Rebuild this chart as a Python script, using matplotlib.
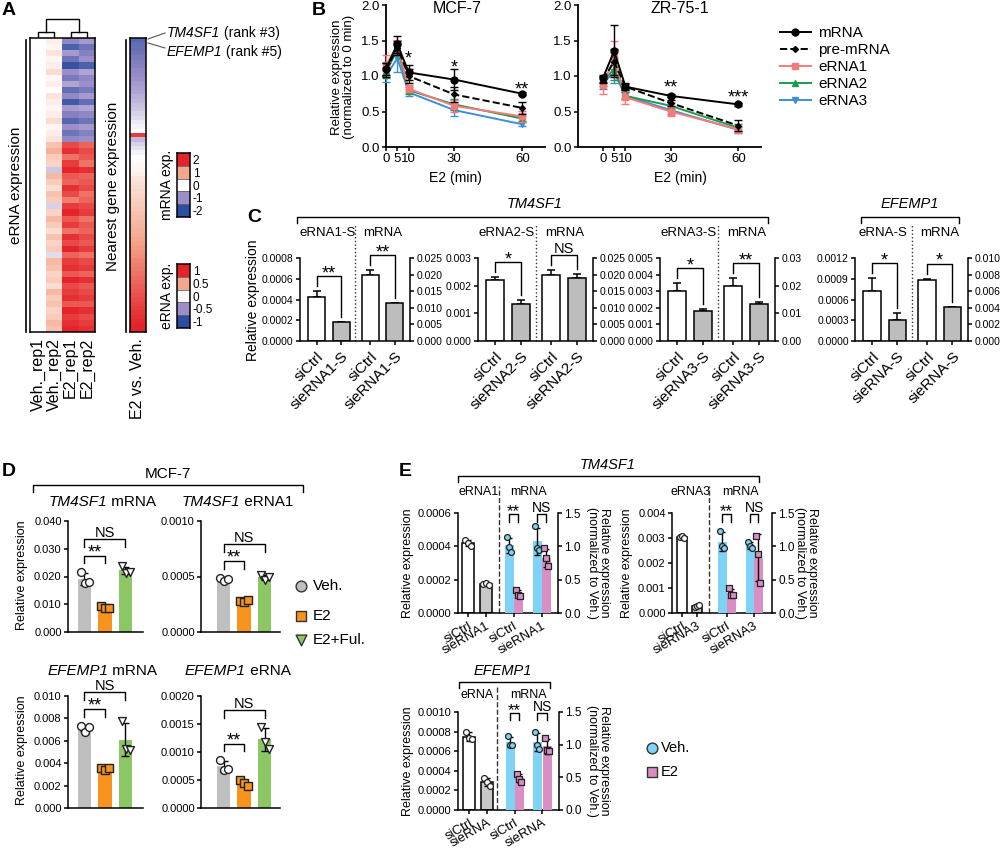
import numpy as np
import matplotlib.pyplot as plt
from matplotlib.colors import LinearSegmentedColormap
from matplotlib.lines import Line2D

plt.rcParams['font.family'] = ['Liberation Sans', 'DejaVu Sans']
plt.rcParams['axes.facecolor'] = 'none'
plt.rcParams['axes.linewidth'] = 1.1

# ---------------- A: heatmap data ----------------
heat_cols = ['Veh._rep1', 'Veh._rep2', 'E2_rep1', 'E2_rep2']
erna_veh1 = [0.0, 0.0, 0.0, 0.0, 0.0, 0.0, 0.0, 0.0, 0.0, 0.0, 0.0, 0.0, 0.0, 0.0, 0.0, 0.0,
             0.0, 0.0, 0.0, 0.0, 0.0, 0.0, 0.0, 0.0, 0.0, 0.0, 0.0, 0.0, 0.0, 0.0, 0.0, 0.0,
             0.0, 0.0, 0.0, 0.0, 0.0, 0.0, 0.0, 0.0, 0.0, 0.0, 0.0, 0.0, 0.0, 0.0, 0.0, 0.0]
erna_veh2 = [0.10, 0.05, 0.15, 0.05, 0.10, 0.20, 0.05, 0.10, 0.00, 0.15, 0.10, 0.05, 0.10, 0.20, 0.05, 0.10,
             0.15, 0.35, 0.45, 0.30, 0.25, -0.25, 0.40, 0.30, 0.20, 0.35, 0.30, -0.20, 0.25, 0.40, 0.30, 0.20,
             0.35, 0.25, 0.30, -0.15, 0.40, 0.35, 0.25, 0.30, 0.20, 0.40, 0.30, 0.35, 0.25, 0.30, 0.40, 0.35]
erna_e2_1 = [-0.55, -0.85, -0.45, -0.70, -0.95, -0.50, -0.65, -0.40, -0.75, -0.55, -0.90, -0.45, -0.60, -0.80,
             -0.50, -0.70, -0.55, 0.85, 0.95, 0.70, 0.90, 1.00, 0.80, 0.75, 0.95, 0.85, 0.65, 0.90, 1.00, 0.80,
             0.90, 0.70, 0.95, 0.85, 1.00, 0.75, 0.90, 0.95, 0.80, 1.00, 0.85, 0.90, 0.95, 0.80, 1.00, 0.90,
             0.95, 1.00]
erna_e2_2 = [-0.45, -0.70, -0.60, -0.50, -0.85, -0.40, -0.55, -0.50, -0.65, -0.45, -0.75, -0.40, -0.55, -0.70,
             -0.45, -0.60, -0.50, 0.75, 0.85, 0.80, 0.70, 0.95, 0.75, 0.80, 0.85, 0.70, 0.75, 0.85, 0.90, 0.70,
             0.80, 0.75, 0.85, 0.80, 0.90, 0.70, 0.85, 0.90, 0.75, 0.95, 0.80, 0.85, 0.90, 0.80, 0.95, 0.85,
             0.90, 0.95]
gene_fc = [-1.6, -1.5, -1.45, -1.4, -1.3, -1.25, -1.2, -1.1, -1.05, -1.0, -0.9, -0.85, -0.8, -0.7, -0.65,
           -0.55, -0.5, -0.4, -0.3, -0.2, -0.1, 0.0, 1.8,
           -0.6, -0.4, -0.25, -0.1, 0.0, 0.05, 0.1, 0.15, 0.2, 0.3, 0.35, 0.4, 0.45, 0.5, 0.55, 0.6, 0.65,
           0.7, 0.75, 0.8, 0.85, 0.9, 0.95, 1.0, 1.05, 1.1, 1.15, 1.2, 1.25, 1.3, 1.35, 1.4, 1.45, 1.5,
           1.55, 1.6, 1.65, 1.7, 1.75, 1.8, 1.85, 1.9, 1.95, 2.0, 2.0]
mrna_key = [2, 1, 0, -1, -2]
erna_key = [1, 0.5, 0, -0.5, -1]

# ---------------- B: time course ----------------
times = [0, 5, 10, 30, 60]
b_names = ['mRNA', 'pre-mRNA', 'eRNA1', 'eRNA2', 'eRNA3']
mcf_mrna = [1.10, 1.45, 1.05, 0.95, 0.75]
mcf_mrna_err = [0.08, 0.12, 0.10, 0.15, 0.02]
mcf_pre = [1.08, 1.40, 1.00, 0.74, 0.55]
mcf_pre_err = [0.10, 0.10, 0.10, 0.10, 0.08]
mcf_e1 = [1.15, 1.43, 0.82, 0.58, 0.43]
mcf_e1_err = [0.14, 0.08, 0.05, 0.08, 0.08]
mcf_e2 = [1.05, 1.38, 0.80, 0.60, 0.40]
mcf_e2_err = [0.08, 0.08, 0.05, 0.08, 0.04]
mcf_e3 = [1.00, 1.25, 0.77, 0.52, 0.32]
mcf_e3_err = [0.08, 0.20, 0.05, 0.08, 0.03]
zr_mrna = [0.97, 1.35, 0.85, 0.72, 0.60]
zr_mrna_err = [0.05, 0.37, 0.04, 0.02, 0.02]
zr_pre = [0.95, 1.20, 0.85, 0.62, 0.30]
zr_pre_err = [0.05, 0.18, 0.05, 0.04, 0.08]
zr_e1 = [0.87, 1.25, 0.70, 0.50, 0.25]
zr_e1_err = [0.12, 0.25, 0.10, 0.07, 0.05]
zr_e2 = [0.92, 1.10, 0.72, 0.58, 0.27]
zr_e2_err = [0.06, 0.15, 0.05, 0.04, 0.05]
zr_e3 = [0.90, 1.05, 0.72, 0.52, 0.24]
zr_e3_err = [0.08, 0.15, 0.05, 0.05, 0.04]
mcf_sig = [(10, 1.32, '*'), (30, 1.20, '*'), (60, 0.89, '**')]
zr_sig = [(30, 0.92, '**'), (60, 0.78, '***')]

# ---------------- C: knockdown bars (mean, error) ----------------
c1_left, c1_left_err = [0.00042, 0.00018], [0.00006, 0.000005]
c1_right, c1_right_err = [0.0198, 0.0113], [0.0015, 0.0002]
c2_left, c2_left_err = [0.0022, 0.00133], [0.0001, 0.00015]
c2_right, c2_right_err = [0.0200, 0.0190], [0.0015, 0.0012]
c3_left, c3_left_err = [0.0030, 0.0018], [0.0005, 0.0001]
c3_right, c3_right_err = [0.0200, 0.0135], [0.0028, 0.0006]
c4_left, c4_left_err = [0.00072, 0.00030], [0.00019, 0.0001]
c4_right, c4_right_err = [0.0074, 0.0041], [0.0001, 0.00005]

# ---------------- D: replicate points (Veh., E2, E2+Ful.) ----------------
d_groups = ['Veh.', 'E2', 'E2+Ful.']
d1_veh, d1_e2, d1_ful = [0.0215, 0.0178, 0.0180], [0.0095, 0.0086, 0.0088], [0.0238, 0.0213, 0.0216]
d2_veh, d2_e2, d2_ful = [0.00049, 0.00046, 0.00048], [0.00028, 0.00027, 0.00029], [0.00051, 0.00047, 0.00050]
d3_veh, d3_e2, d3_ful = [0.0073, 0.0068, 0.0072], [0.0036, 0.0034, 0.0036], [0.0078, 0.0053, 0.0052]
d4_veh, d4_e2, d4_ful = [0.00085, 0.00068, 0.00070], [0.00050, 0.00044, 0.00040], [0.00145, 0.00118, 0.00105]

# ---------------- E: replicate points ----------------
e1_ctrl, e1_kd = [0.00044, 0.00042, 0.00040], [0.000175, 0.00018, 0.00017]
e1_veh_ctrl, e1_e2_ctrl = [1.14, 0.99, 0.91], [0.35, 0.27, 0.25]
e1_veh_kd, e1_e2_kd = [1.30, 0.97, 0.95], [0.97, 0.82, 0.70]
e2_ctrl, e2_kd = [0.00305, 0.00308, 0.00302], [0.00025, 0.00030, 0.00031]
e2_veh_ctrl, e2_e2_ctrl = [1.23, 1.00, 0.98], [0.37, 0.27, 0.27]
e2_veh_kd, e2_e2_kd = [1.07, 1.00, 0.97], [1.15, 0.88, 0.45]
e3_ctrl, e3_kd = [0.00080, 0.00073, 0.00072], [0.00033, 0.00029, 0.00025]
e3_veh_ctrl, e3_e2_ctrl = [1.13, 1.00, 0.99], [0.55, 0.47, 0.43]
e3_veh_kd, e3_e2_kd = [1.20, 1.00, 0.93], [1.10, 0.92, 0.90]

# ================================================================
W, H = 1000, 849
fig = plt.figure(figsize=(10, 8.49), dpi=100)
renderer = fig.canvas.get_renderer()


def add_ax(x0, y0, x1, y1):
    return fig.add_axes([x0 / W, 1 - y1 / H, (x1 - x0) / W, (y1 - y0) / H])


ov = add_ax(0, 0, W, H)
ov.set_xlim(0, W)
ov.set_ylim(H, 0)
ov.axis('off')


def txt(x, y, s, fs=10, **kw):
    kw.setdefault('ha', 'center')
    kw.setdefault('va', 'center')
    return ov.text(x, y, s, fontsize=fs, **kw)


def mixed(x, y, parts, fs, ha='center'):
    # italic gene name followed by plain text, laid out left to right
    objs = [txt(0, y, s, fs, ha='left', style=st) for s, st in parts]
    widths = [o.get_window_extent(renderer).width for o in objs]
    start = x - sum(widths) / 2 if ha == 'center' else x
    for o, w in zip(objs, widths):
        o.set_x(start)
        start += w


def sig_text(ax, x, y, label, fs=None):
    # stars sit high in the em box, so pull them down a little onto the bracket
    if label == 'NS':
        ax.annotate(label, (x, y), xytext=(0, 1.5), textcoords='offset points', ha='center',
                    va='baseline', fontsize=fs or 10.5, annotation_clip=False)
    else:
        ax.annotate(label, (x, y), xytext=(0, -1.5), textcoords='offset points', ha='center',
                    va='baseline', fontsize=fs or 13, annotation_clip=False)


def hbracket(xa, xb, y, drop=6):
    ov.plot([xa, xa, xb, xb], [y + drop, y, y, y + drop], color='black', lw=1)


def style(ax, fs):
    ax.spines['top'].set_visible(False)
    ax.spines['right'].set_visible(False)
    ax.tick_params(labelsize=fs, length=3, width=1.1, pad=1.5)


def set_yt(ax, ymax, step, fmt):
    t = np.round(np.arange(0, ymax + step / 2, step), 6)
    ax.set_ylim(0, ymax)
    ax.set_yticks(t)
    ax.set_yticklabels([fmt.format(v) for v in t])


for lab, x, y in [('A', 2, 2), ('B', 312, 2), ('C', 247, 209), ('D', 2, 463), ('E', 399, 463)]:
    txt(x, y, lab, 14, ha='left', va='top', fontweight='bold')

# ---------------- Panel A ----------------
cmap = LinearSegmentedColormap.from_list('bwr2', ['#2c4da0', '#9c8fc9', '#ffffff', '#f6a98f', '#e4232a'])
heat = np.column_stack([erna_veh1, erna_veh2, erna_e2_1, erna_e2_2])
axh = add_ax(30, 38, 95, 332)
axh.imshow(heat, aspect='auto', cmap=cmap, vmin=-1, vmax=1, interpolation='nearest')
axh.set_xticks([])
axh.set_yticks([])
ncol = len(heat_cols)
cx = [30 + (i + 0.5) * 65 / ncol for i in range(ncol)]
for i, lab in enumerate(heat_cols):
    txt(cx[i], 338, lab, 11.5, rotation=90, va='top')
for a, b in [(0, 1), (2, 3)]:
    ov.plot([cx[a], cx[a], cx[b], cx[b]], [38, 32, 32, 38], color='black', lw=1)
ma, mb = (cx[0] + cx[1]) / 2, (cx[2] + cx[3]) / 2
ov.plot([ma, ma, mb, mb], [32, 19, 19, 32], color='black', lw=1)
ov.plot([26, 26], [40, 332], color='black', lw=1.2)
txt(16, 185, 'eRNA expression', 11, rotation=90)

axg = add_ax(130, 38, 146, 332)
axg.imshow(np.array(gene_fc)[:, None], aspect='auto', cmap=cmap, vmin=-2, vmax=2, interpolation='nearest')
axg.set_xticks([])
axg.set_yticks([])
ov.plot([126, 126], [40, 332], color='black', lw=1.2)
txt(113, 186, 'Nearest gene expression', 11, rotation=90)
txt(138, 338, 'E2 vs. Veh.', 11.5, rotation=90, va='top')
ov.plot([148, 165], [39, 33], color='#555', lw=0.8)
ov.plot([148, 165], [43, 48], color='#555', lw=0.8)
mixed(167, 33, [('TM4SF1', 'italic'), (' (rank #3)', 'normal')], 10, ha='left')
mixed(167, 52, [('EFEMP1', 'italic'), (' (rank #5)', 'normal')], 10, ha='left')


def key(y0, vals, vmax, title):
    ax = add_ax(177, y0, 190, y0 + 64)
    ax.imshow(np.array(vals, dtype=float)[:, None], aspect='auto', cmap=cmap, vmin=-vmax, vmax=vmax)
    ax.set_xticks([])
    ax.yaxis.tick_right()
    ax.set_yticks(range(len(vals)))
    ax.set_yticklabels([f'{v:g}' for v in vals], fontsize=8.5)
    ax.tick_params(axis='y', length=0, pad=2)
    for k in range(1, len(vals)):
        ax.axhline(k - 0.5, color='#666', lw=0.6)
    txt(167, y0 + 32, title, 10, rotation=90)


key(153, mrna_key, 2, 'mRNA exp.')
key(264, erna_key, 1, 'eRNA exp.')

# ---------------- Panel B ----------------
b_colors = ['black', 'black', '#f47a7a', '#1f9a4c', '#3d8fd8']
b_markers = ['o', 'D', 's', '^', 'v']
b_ms = [5, 3, 5, 5, 5]
b_ls = ['-', '--', '-', '-', '-']


def b_panel(x0, x1, xmin, series, sigs, title, cx_title, cx_xlab):
    ax = add_ax(x0, 5, x1, 147)
    for k in range(len(series) - 1, -1, -1):
        vals, errs = series[k]
        ax.errorbar(times, vals, yerr=errs, color=b_colors[k], marker=b_markers[k], ms=b_ms[k],
                    ls=b_ls[k], lw=1.4, elinewidth=1, capsize=3, clip_on=False,
                    zorder=3 + len(series) - k)
    ax.set_xlim(xmin, 70)
    set_yt(ax, 2.0, 0.5, '{:.1f}')
    ax.set_xticks(times)
    style(ax, 9.5)
    ax.spines['left'].set_linewidth(1.3)
    ax.spines['bottom'].set_linewidth(1.3)
    for t, y, s in sigs:
        ax.annotate(s, (t, y), xytext=(0, -7.5), textcoords='offset points', ha='center',
                    va='baseline', fontsize=13)
    txt(cx_title, 8, title, 11.5)
    txt(cx_xlab, 178, 'E2 (min)', 10)
    return ax


b_panel(386, 545, 0, [(mcf_mrna, mcf_mrna_err), (mcf_pre, mcf_pre_err), (mcf_e1, mcf_e1_err),
                      (mcf_e2, mcf_e2_err), (mcf_e3, mcf_e3_err)], mcf_sig, 'MCF-7', 457, 455)
b_panel(578, 761, -11, [(zr_mrna, zr_mrna_err), (zr_pre, zr_pre_err), (zr_e1, zr_e1_err),
                        (zr_e2, zr_e2_err), (zr_e3, zr_e3_err)], zr_sig, 'ZR-75-1', 680, 680)
txt(343, 77, 'Relative expression\n(normalized to 0 min)', 9.5, rotation=90, linespacing=1.1)
handles = [Line2D([], [], color=b_colors[k], marker=b_markers[k], ms=b_ms[k], ls=b_ls[k], lw=1.4)
           for k in range(len(b_names))]
fig.legend(handles, b_names, loc='upper left', bbox_to_anchor=(780 / W, 1 - 26 / H),
           frameon=False, fontsize=11, handlelength=2.0, labelspacing=0.2, borderaxespad=0,
           handletextpad=0.5, borderpad=0)

# ---------------- Panel C ----------------
def bracket(ax, xa, xb, ya, yb, top, label):
    ax.plot([xa, xa, xb, xb], [ya, top, top, yb], color='black', lw=1, clip_on=False)
    sig_text(ax, (xa + xb) / 2, top, label)


def c_group(x0, x1, lv, le, rv, re, lmax, lstep, lfmt, rmax, rstep, rfmt, names, heads, sigs):
    y0, y1 = 258, 341
    ax = add_ax(x0, y0, x1, y1)
    ax2 = ax.twinx()
    ax.set_xlim(0, 4)
    pos = [0.6, 1.5, 2.55, 3.45]
    for a, vals, errs, ps in [(ax, lv, le, pos[:2]), (ax2, rv, re, pos[2:])]:
        for p, v, e, c in zip(ps, vals, errs, ['white', '#bdbdbd']):
            a.bar(p, v, 0.62, color=c, edgecolor='black', lw=1.1, zorder=2)
            a.errorbar(p, v, yerr=[[0], [e]], color='black', capsize=3, lw=1.1, capthick=1.1, zorder=1)
    set_yt(ax, lmax, lstep, lfmt)
    set_yt(ax2, rmax, rstep, rfmt)
    style(ax, 7.5)
    ax2.spines['top'].set_visible(False)
    ax2.spines['left'].set_visible(False)
    ax2.spines['bottom'].set_visible(False)
    ax2.tick_params(labelsize=7.5, length=3, width=1.1, pad=1.5)
    ax.set_xticks(pos)
    ax.set_xticklabels(names, rotation=45, ha='right', rotation_mode='anchor', fontsize=11)
    ax.tick_params(axis='x', pad=3)
    ax.plot([2, 2], [0, lmax * 1.4], ls=':', color='#333', lw=1, clip_on=False)
    for a, vals, errs, ps, top_, lab in [(ax, lv, le, pos[:2], lmax, sigs[0]),
                                          (ax2, rv, re, pos[2:], rmax, sigs[1])]:
        ya = vals[0] + errs[0] + 0.06 * top_
        yb = vals[1] + errs[1] + 0.06 * top_
        bracket(a, ps[0], ps[1], ya, yb, max(ya, yb) + 0.12 * top_, lab)
    wpx = x1 - x0
    txt(x0 + wpx * 0.25, 233, heads[0], 9.5)
    txt(x0 + wpx * 0.75, 233, heads[1], 9.5)


c_group(300, 410, c1_left, c1_left_err, c1_right, c1_right_err, 0.0008, 0.0002, '{:.4f}', 0.025, 0.005,
        '{:.3f}', ['siCtrl', 'sieRNA1-S', 'siCtrl', 'sieRNA1-S'], ['eRNA1-S', 'mRNA'], ['**', '**'])
c_group(478, 593, c2_left, c2_left_err, c2_right, c2_right_err, 0.003, 0.001, '{:.3f}', 0.025, 0.005,
        '{:.3f}', ['siCtrl', 'sieRNA2-S', 'siCtrl', 'sieRNA2-S'], ['eRNA2-S', 'mRNA'], ['*', 'NS'])
c_group(660, 775, c3_left, c3_left_err, c3_right, c3_right_err, 0.005, 0.001, '{:.3f}', 0.03, 0.01,
        '{:.2f}', ['siCtrl', 'sieRNA3-S', 'siCtrl', 'sieRNA3-S'], ['eRNA3-S', 'mRNA'], ['*', '**'])
c_group(855, 968, c4_left, c4_left_err, c4_right, c4_right_err, 0.0012, 0.0003, '{:.4f}', 0.010, 0.002,
        '{:.3f}', ['siCtrl', 'sieRNA-S', 'siCtrl', 'sieRNA-S'], ['eRNA-S', 'mRNA'], ['*', '*'])
hbracket(297, 768, 217)
hbracket(861, 959, 217)
txt(535, 204, 'TM4SF1', 10.5, style='italic')
txt(910, 204, 'EFEMP1', 10.5, style='italic')
txt(253, 300, 'Relative expression', 10, rotation=90)

# ---------------- Panel D ----------------
d_colors = ['#bfbfbf', '#f7931e', '#8cc665']
d_markers = ['o', 's', 'v']
d_faces = ['white', '#f7931e', 'white']
jit = np.array([-0.18, 0.02, 0.2])


def d_panel(x0, y0, x1, y1, groups, ymax, step, fmt, xmin, gene, rna, ty):
    ax = add_ax(x0, y0, x1, y1)
    tops = []
    for i, pts in enumerate(groups):
        m, s = np.mean(pts), np.std(pts, ddof=1)
        ax.bar(i, m, 0.65, color=d_colors[i], zorder=1)
        ax.errorbar(i, m, yerr=s, color='black', capsize=3, lw=1, capthick=1, zorder=3)
        ax.scatter(i + jit, pts, marker=d_markers[i], s=32, facecolor=d_faces[i], edgecolor='#222',
                   lw=1, zorder=4, clip_on=False)
        tops.append(max(max(pts), m + s))
    ax.set_xlim(xmin, xmin + (x1 - x0) / 20.5)
    set_yt(ax, ymax, step, fmt)
    style(ax, 8)
    ax.set_xticks([])
    t1 = max(tops[0], tops[1]) + 0.15 * ymax
    t2 = max(t1 + 0.15 * ymax, tops[2] + 0.15 * ymax)
    leg = 0.07 * ymax
    bracket(ax, 0, 1, t1 - leg, t1 - leg, t1, '**')
    bracket(ax, 0, 2, t2 - leg, t2 - leg, t2, 'NS')
    mixed((x0 + x1) / 2 - 3, ty, [(gene, 'italic'), (' ' + rna, 'normal')], 11)
    return ax


d_panel(68, 521, 143, 632, [d1_veh, d1_e2, d1_ful], 0.040, 0.010, '{:.3f}', -0.8, 'TM4SF1', 'mRNA', 502)
d_panel(201, 521, 280, 632, [d2_veh, d2_e2, d2_ful], 0.0010, 0.0005, '{:.4f}', -1.1, 'TM4SF1', 'eRNA1', 502)
d_panel(68, 696, 143, 808, [d3_veh, d3_e2, d3_ful], 0.010, 0.002, '{:.3f}', -0.8, 'EFEMP1', 'mRNA', 671)
d_panel(201, 696, 280, 808, [d4_veh, d4_e2, d4_ful], 0.0020, 0.0005, '{:.4f}', -1.1, 'EFEMP1', 'eRNA', 671)
hbracket(33, 303, 485, 7)
txt(168, 474, 'MCF-7', 11)
txt(22, 575, 'Relative expression', 9, rotation=90)
txt(22, 750, 'Relative expression', 9, rotation=90)
for k, yy in enumerate([586, 616, 640]):
    ov.scatter(301, yy, marker=d_markers[k], s=60, facecolor=d_colors[k], edgecolor='#333', lw=1)
    txt(313, yy, d_groups[k], 11, ha='left')

# ---------------- Panel E ----------------
e_veh, e_e2 = '#7ed2f4', '#d98fc4'


def e_group(x0, y0, x1, y1, lpts, lmax, lstep, lfmt, lpos, lbw, div, rpos, rpts, names, heads,
            lylab_x, rylab_x, head_y):
    ax = add_ax(x0, y0, x1, y1)
    ax.set_xlim(0, x1 - x0)
    ax2 = ax.twinx()
    for p, pts, c in zip(lpos, lpts, ['white', '#c8c8c8']):
        m, s = np.mean(pts), np.std(pts, ddof=1)
        ax.bar(p, m, lbw, color=c, edgecolor='black', lw=1.1, zorder=1)
        ax.errorbar(p, m, yerr=s, color='black', capsize=2.5, lw=1, zorder=3)
        ax.scatter(p + jit * lbw * 1.2, pts, s=18, marker='o', facecolor='white', edgecolor='#222',
                   lw=0.9, zorder=4)
    for k, (p, pts) in enumerate(zip(rpos, rpts)):
        m, s = np.mean(pts), np.std(pts, ddof=1)
        col = e_veh if k % 2 == 0 else e_e2
        mk = 'o' if k % 2 == 0 else 's'
        ax2.bar(p, m, 9, color=col, zorder=1)
        ax2.errorbar(p, m, yerr=s, color='black', capsize=2.5, lw=1, zorder=3)
        ax2.scatter(p + jit * 9, pts, s=18, marker=mk, facecolor=col, edgecolor='#222', lw=0.9, zorder=4)
    for a, b, lab in [(0, 1, names[4]), (2, 3, names[5])]:
        ax2.plot([rpos[a], rpos[a], rpos[b], rpos[b]], [1.37, 1.48, 1.48, 1.37], color='black', lw=1,
                 clip_on=False)
        sig_text(ax2, (rpos[a] + rpos[b]) / 2, 1.48, lab, 10 if lab == 'NS' else 12)
    set_yt(ax, lmax, lstep, lfmt)
    set_yt(ax2, 1.5, 0.5, '{:.1f}')
    style(ax, 8)
    ax2.spines['top'].set_visible(False)
    ax2.spines['left'].set_visible(False)
    ax2.spines['bottom'].set_visible(False)
    ax2.tick_params(labelsize=8.5, length=3, width=1.1, pad=1.5)
    ticks = [lpos[0], lpos[1], (rpos[0] + rpos[1]) / 2, (rpos[2] + rpos[3]) / 2]
    ax.set_xticks(ticks)
    ax.set_xticklabels(names[:4], rotation=30, ha='right', rotation_mode='anchor', fontsize=9.5)
    ax.tick_params(axis='x', pad=2)
    ax.plot([div, div], [0, lmax * (1 + 27 / (y1 - y0))], ls='--', color='#333', lw=1, clip_on=False)
    txt(x0 + div / 2, head_y, heads[0], 9)
    txt(x0 + (div + x1 - x0) / 2, head_y, heads[1], 9)
    txt(lylab_x, (y0 + y1) / 2, 'Relative expression', 9, rotation=90)
    txt(rylab_x, (y0 + y1) / 2, 'Relative expression\n(normalized to Veh.)', 9, rotation=270,
        linespacing=1.1)


e_group(458, 513, 558, 613, [e1_ctrl, e1_kd], 0.0006, 0.0002, '{:.4f}', [10, 28], 12, 41,
        [51, 60, 79, 88], [e1_veh_ctrl, e1_e2_ctrl, e1_veh_kd, e1_e2_kd],
        ['siCtrl', 'sieRNA1', 'siCtrl', 'sieRNA1', '**', 'NS'], ['eRNA1', 'mRNA'], 408, 598, 492)
e_group(672, 513, 772, 613, [e2_ctrl, e2_kd], 0.004, 0.001, '{:.3f}', [10, 25], 10, 37,
        [50, 59, 78, 86], [e2_veh_ctrl, e2_e2_ctrl, e2_veh_kd, e2_e2_kd],
        ['siCtrl', 'sieRNA3', 'siCtrl', 'sieRNA3', '**', 'NS'], ['eRNA3', 'mRNA'], 627, 806, 492)
e_group(458, 712, 559, 810, [e3_ctrl, e3_kd], 0.0010, 0.0002, '{:.4f}', [11, 29], 12, 39,
        [52, 61, 79, 89], [e3_veh_ctrl, e3_e2_ctrl, e3_veh_kd, e3_e2_kd],
        ['siCtrl', 'sieRNA', 'siCtrl', 'sieRNA', '**', 'NS'], ['eRNA', 'mRNA'], 408, 598, 695)
hbracket(458, 759, 476)
txt(608, 465, 'TM4SF1', 10.5, style='italic')
hbracket(459, 550, 682)
txt(503, 671, 'EFEMP1', 10.5, style='italic')
ov.scatter(652, 748, marker='o', s=60, facecolor=e_veh, edgecolor='#333', lw=1)
txt(661, 748, 'Veh.', 10.5, ha='left')
ov.scatter(652, 772, marker='s', s=55, facecolor=e_e2, edgecolor='#333', lw=1)
txt(661, 772, 'E2', 10.5, ha='left')

fig.savefig('out.png', dpi=100)
